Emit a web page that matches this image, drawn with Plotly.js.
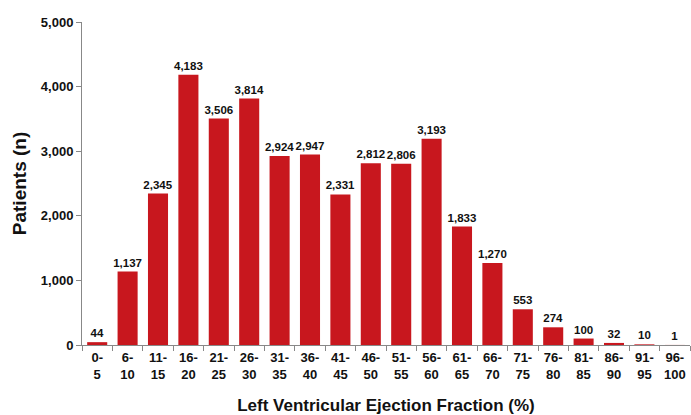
<!DOCTYPE html>
<html><head><meta charset="utf-8">
<script src="https://cdn.plot.ly/plotly-3.0.1.min.js"></script>
<style>body{margin:0;padding:0;background:#fff}#chart{width:691px;height:415px}</style>
</head><body><div id="chart"></div>
<script>
var categories = ["0-<br>5","6-<br>10","11-<br>15","16-<br>20","21-<br>25","26-<br>30","31-<br>35","36-<br>40","41-<br>45","46-<br>50","51-<br>55","56-<br>60","61-<br>65","66-<br>70","71-<br>75","76-<br>80","81-<br>85","86-<br>90","91-<br>95","96-<br>100"];
var patients = [44,1137,2345,4183,3506,3814,2924,2947,2331,2812,2806,3193,1833,1270,553,274,100,32,10,1];
var yTickVals = [0,1000,2000,3000,4000,5000];
var yTickText = ["0","1,000","2,000","3,000","4,000","5,000"];

var trace = {
  type: "bar",
  x: categories,
  y: patients,
  marker: {color: "#C8171E"},
  text: patients.map(function(v){return v.toLocaleString("en-US");}),
  textposition: "outside",
  cliponaxis: false,
  constraintext: "none",
  textfont: {family: "Liberation Sans, Arial, sans-serif", size: 11.5, color: "#111"},
  texttemplate: "<b>%{text}</b>",
  hoverinfo: "none"
};
var layout = {
  width: 691, height: 415,
  margin: {l: 82, r: 1, t: 22, b: 70},
  paper_bgcolor: "#fff", plot_bgcolor: "#fff",
  bargap: 0.34,
  showlegend: false,
  font: {family: "Liberation Sans, Arial, sans-serif", color: "#111"},
  xaxis: {
    type: "category",
    tickson: "boundaries",
    ticks: "outside", ticklen: 5, tickcolor: "#888",
    showline: true, linecolor: "#888", linewidth: 1,
    showgrid: false, zeroline: false,
    tickfont: {size: 13, family: "Liberation Sans, Arial, sans-serif", weight: "bold", color: "#111"},
    tickangle: 0,
    title: {text: "<b>Left Ventricular Ejection Fraction (%)</b>", font: {size: 17, color: "#111"}, standoff: 21}
  },
  yaxis: {
    range: [0, 5000],
    tickvals: yTickVals, ticktext: yTickText.map(function(t){return "<b>"+t+"</b>";}),
    ticks: "outside", ticklen: 5, tickcolor: "#888",
    showline: true, linecolor: "#888", linewidth: 1,
    showgrid: false, zeroline: false,
    tickfont: {size: 13, color: "#111"},
    title: {text: "<b>Patients (n)</b>", font: {size: 19, color: "#111"}, standoff: 9}
  }
};
Plotly.newPlot("chart", [trace], layout, {displayModeBar: false, staticPlot: true});
</script>
</body></html>
